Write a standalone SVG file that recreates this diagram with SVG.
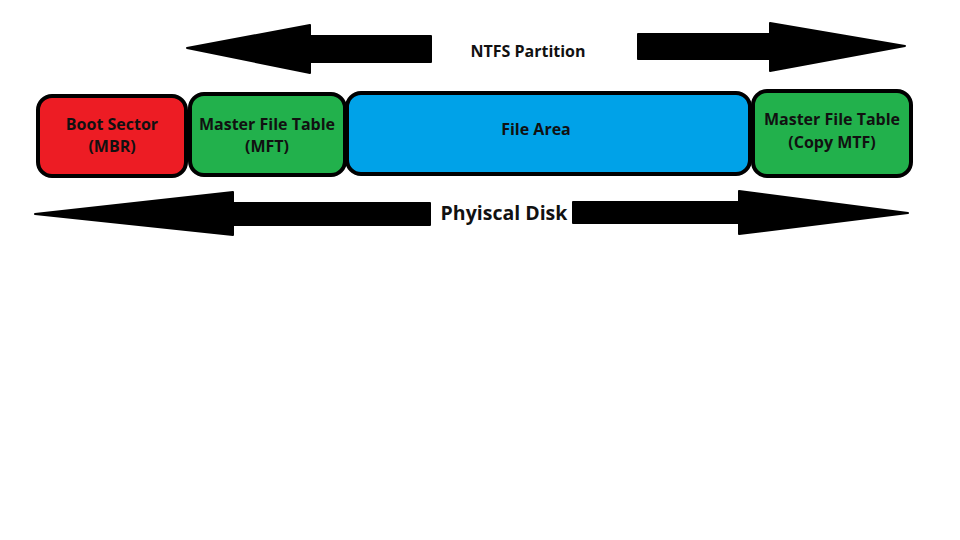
<svg xmlns="http://www.w3.org/2000/svg" width="960" height="540" viewBox="0 0 960 540">
<style>
.box{stroke:#000;stroke-width:4}
.red{fill:#ED1C24}
.green{fill:#22B14C}
.blue{fill:#00A2E8}
.lbl{font-family:"Open Sans","Liberation Sans",sans-serif;font-weight:bold;font-size:16px;fill:#111;text-anchor:middle}
.arrow{fill:#000;stroke:#000;stroke-width:2;stroke-linejoin:round}
</style>
<rect width="960" height="540" fill="#fff"/>
<g id="connectors">
<polygon class="arrow" points="187,48 310,25 310,36 431,36 431,62 310,62 310,73"/>
<polygon class="arrow" points="905,46 770,23 770,34 638,34 638,59 770,59 770,71"/>
<polygon class="arrow" points="35,214 233,192 233,203 430,203 430,225 233,225 233,235"/>
<polygon class="arrow" points="908,213 739,191 739,202 573,202 573,223 739,223 739,234"/>
</g>
<g id="ntfs-label"><text class="lbl" x="528" y="57">NTFS Partition</text></g>
<g id="disk-label"><text class="lbl" x="504" y="220" style="font-size:19.5px">Phyiscal Disk</text></g>
<g id="boot">
<rect class="box red" x="38" y="96" width="148" height="80" rx="14"/>
<text class="lbl" x="112" y="130">Boot Sector</text>
<text class="lbl" x="112" y="152">(MBR)</text>
</g>
<g id="mft">
<rect class="box green" x="190" y="94" width="155" height="81" rx="14"/>
<text class="lbl" x="267" y="130">Master File Table</text>
<text class="lbl" x="267" y="152">(MFT)</text>
</g>
<g id="filearea">
<rect class="box blue" x="347" y="93" width="403" height="81" rx="14"/>
<text class="lbl" x="536" y="135">File Area</text>
</g>
<g id="copymft">
<rect class="box green" x="753" y="91" width="158" height="85" rx="14"/>
<text class="lbl" x="832" y="125">Master File Table</text>
<text class="lbl" x="832" y="148">(Copy MTF)</text>
</g>
</svg>
